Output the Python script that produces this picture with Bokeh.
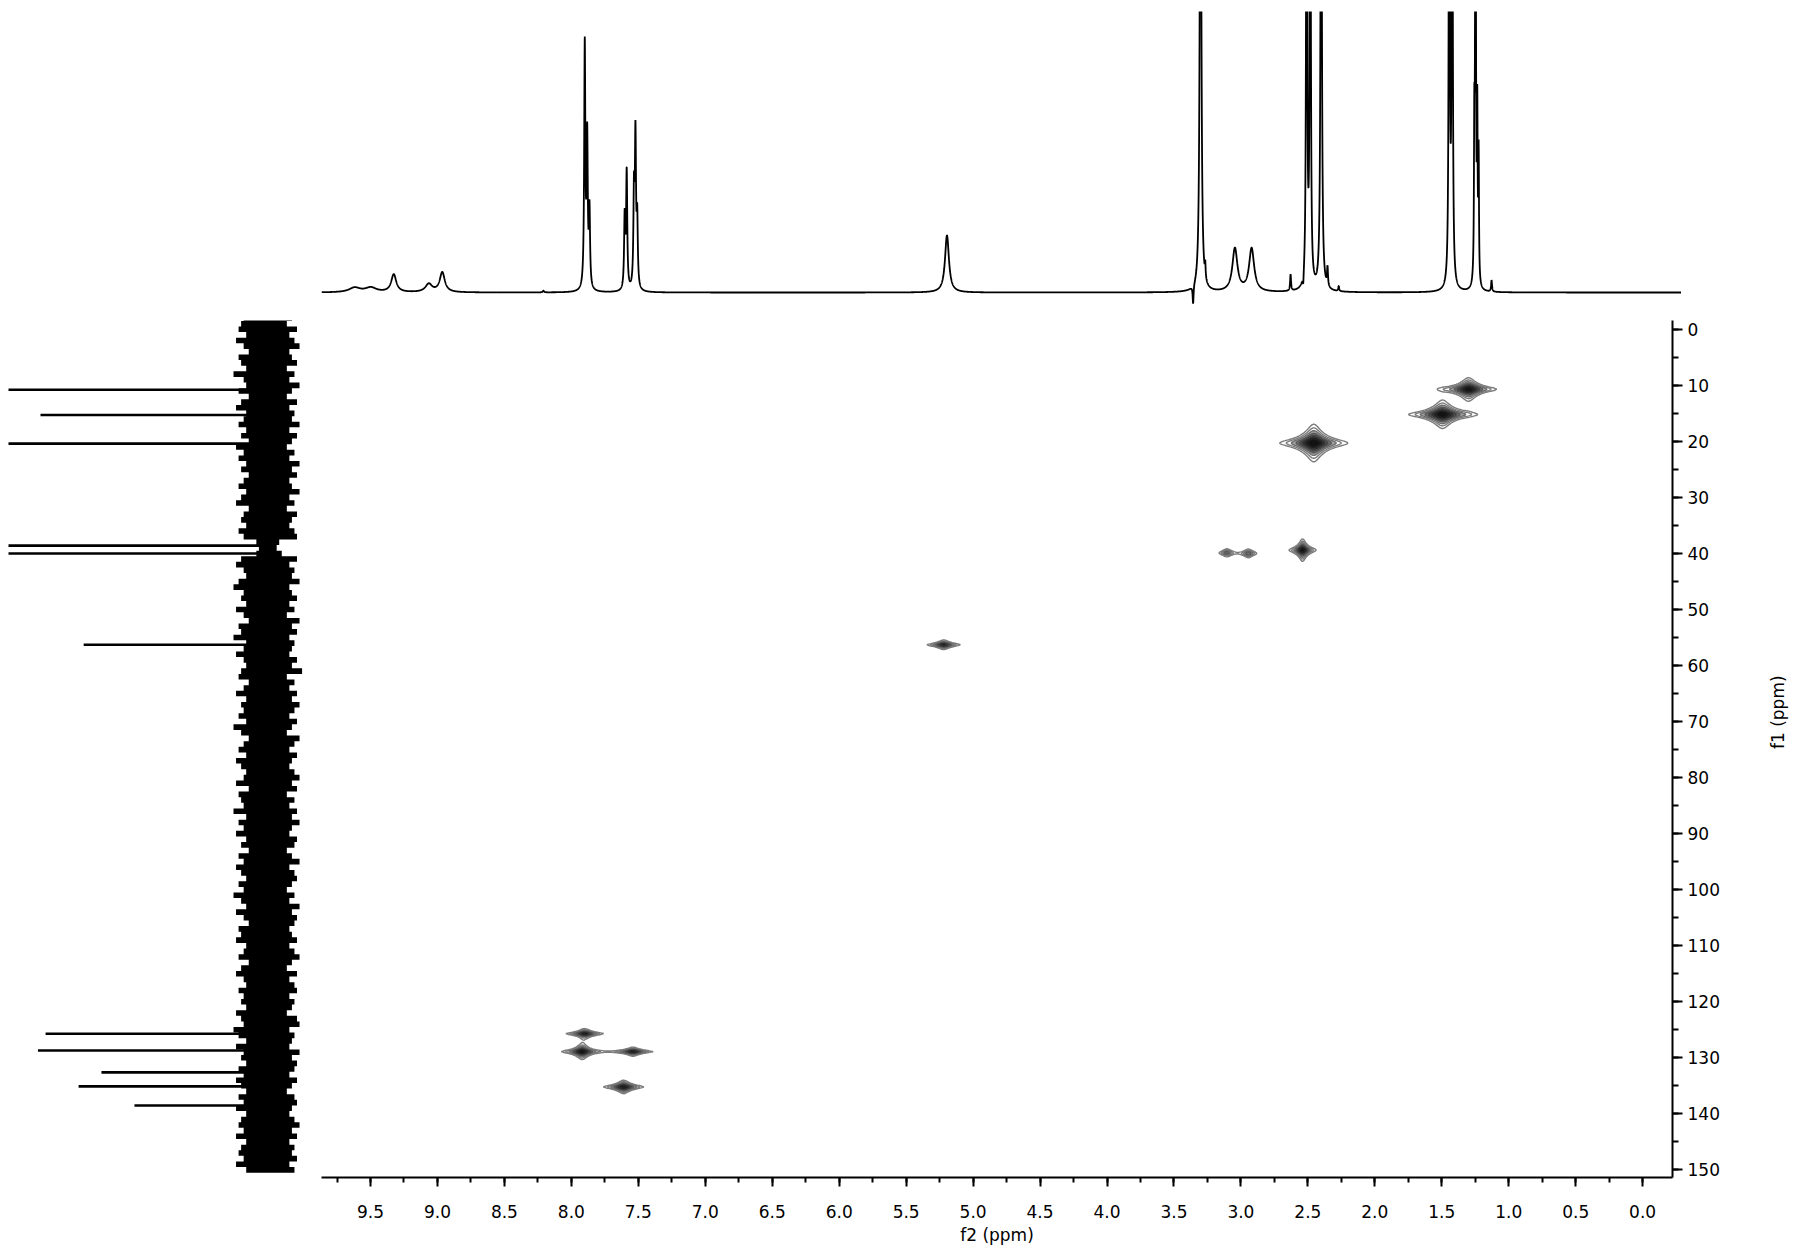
import math
import numpy as np
from bokeh.plotting import figure
from bokeh.layouts import row, column
from bokeh.models import Range1d, LinearAxis, SingleIntervalTicker, PrintfTickFormatter, Spacer
from bokeh.embed import file_html
from bokeh.resources import INLINE

# ---------------- data ----------------
# 1H projection (f2 axis): line positions (ppm), heights (rel. units), full widths (ppm)
h1_ppm = [9.62, 9.50, 9.33, 9.07, 8.97, 8.22,
          7.913, 7.895, 7.878, 7.617, 7.602, 7.548, 7.537, 7.524,
          5.226, 3.400, 3.345, 3.310, 3.090, 2.966, 2.677, 2.583,
          2.558, 2.531, 2.450, 2.403, 2.320,
          1.500, 1.478, 1.314, 1.305, 1.292, 1.282, 1.186]
h1_height = [1.8, 1.8, 7.0, 3.2, 7.8, 0.7,
             96, 58, 30, 28, 46, 36, 58, 26,
             22.5, -7.5, 250, 5.5, 17.0, 17.0, 6.5, -4.5,
             250, 250, 250, 7.5, 2.0,
             250, 250, 55, 250, 64, 50, 4.5]
h1_fwhm = [0.10, 0.10, 0.045, 0.06, 0.045, 0.01,
           0.010, 0.010, 0.010, 0.010, 0.010, 0.010, 0.010, 0.010,
           0.035, 0.008, 0.012, 0.006, 0.045, 0.045, 0.008, 0.008,
           0.008, 0.008, 0.010, 0.008, 0.008,
           0.008, 0.008, 0.006, 0.006, 0.006, 0.006, 0.008]

# 13C projection (f1 axis): line positions (ppm) and heights (rel. units)
c13_ppm = [10.8, 15.3, 20.4, 38.6, 40.0, 56.3, 125.7, 128.7, 132.6, 135.1, 138.5]
c13_height = [130, 89, 130, 130, 130, 72, 87, 90, 65, 74, 52]

# 13C projection noise envelope, one value per ppm from -2 to 150
c13_noise_ppm = list(range(-2, 151))
c13_noise_left = [9, 10, 11, 8, 12, 9, 7, 11, 10, 8,
                  13, 9, 8, 11, 7, 10, 12, 8, 9, 11,
                  8, 10, 7, 12, 9, 11, 8, 10, 7, 9,
                  11, 8, 10, 12, 7, 9, 10, 8, 11, 9,
                  4, 3, 4, 10, 12, 9, 8, 11, 13, 9,
                  10, 8, 12, 9, 7, 11, 10, 13, 8, 9,
                  12, 9, 8, 10, 11, 7, 9, 12, 8, 10,
                  9, 11, 8, 13, 10, 7, 9, 11, 8, 12,
                  10, 8, 9, 12, 7, 11, 10, 9, 13, 8,
                  11, 9, 12, 8, 10, 7, 11, 9, 12, 10,
                  8, 11, 9, 13, 10, 8, 12, 9, 7, 11,
                  10, 12, 8, 9, 11, 7, 10, 12, 9, 8,
                  11, 9, 10, 8, 12, 10, 9, 13, 11, 8,
                  12, 9, 10, 8, 11, 9, 12, 10, 8, 11,
                  9, 12, 8, 10, 11, 9, 12, 8, 10, 11,
                  9, 12, 8]
c13_noise_right = [-10, -8, -12, -9, -11, -13, -9, -10, -12, -8,
                   -11, -9, -13, -10, -8, -12, -9, -11, -10, -13,
                   -9, -12, -10, -8, -11, -9, -13, -10, -12, -9,
                   -10, -13, -9, -11, -8, -12, -10, -9, -11, -12,
                   -5, -4, -6, -12, -9, -11, -10, -13, -9, -10,
                   -12, -9, -11, -8, -13, -10, -12, -9, -11, -10,
                   -9, -12, -10, -14, -8, -11, -9, -12, -10, -13,
                   -11, -9, -12, -10, -8, -13, -11, -9, -12, -10,
                   -9, -11, -13, -10, -12, -8, -11, -9, -12, -10,
                   -13, -10, -9, -12, -11, -8, -10, -13, -9, -11,
                   -12, -10, -8, -11, -9, -13, -10, -12, -11, -9,
                   -10, -12, -9, -11, -13, -10, -8, -12, -9, -11,
                   -12, -9, -11, -10, -8, -12, -13, -9, -11, -10,
                   -9, -13, -10, -12, -11, -9, -12, -10, -8, -11,
                   -12, -10, -9, -11, -13, -10, -12, -9, -11, -10,
                   -12, -9, -11]

# HSQC cross peaks: f2 (ppm), f1 (ppm), amplitude, half-widths in f2 and f1 (ppm)
cross_f2 = [1.300, 1.495, 2.456, 2.540, 3.105, 2.944, 5.220, 7.900, 7.920, 7.540, 7.610]
cross_f1 = [10.7, 15.2, 20.3, 39.4, 39.9, 40.0, 56.3, 125.7, 128.9, 128.9, 135.2]
cross_amp = [1.0, 1.2, 1.3, 1.0, 0.22, 0.24, 0.6, 0.7, 1.0, 0.7, 0.8]
cross_hw_f2 = [0.048, 0.053, 0.051, 0.023, 0.030, 0.030, 0.038, 0.039, 0.034, 0.040, 0.039]
cross_hw_f1 = [0.47, 0.52, 0.67, 0.46, 0.38, 0.38, 0.26, 0.24, 0.32, 0.22, 0.31]

contour_levels = [0.05, 0.075, 0.11, 0.17, 0.25, 0.38, 0.56, 0.85, 1.3, 100]

# ---------------- styling ----------------
FONT = "DejaVu Sans"
FS = "17px"

F2_LO, F2_HI = -0.223, 9.866
F1_TOP, F1_BOT = -1.57, 151.36

xr = Range1d(F2_HI, F2_LO)
yr = Range1d(F1_BOT, F1_TOP)


def bare(fig):
    fig.outline_line_color = None
    fig.xgrid.visible = False
    fig.ygrid.visible = False
    fig.background_fill_color = "white"
    fig.border_fill_color = "white"


# ---------------- top: 1H projection ----------------
top = figure(width=1360, height=312, x_range=xr, y_range=Range1d(-11.0, 110.6),
             output_backend="svg", toolbar_location=None,
             x_axis_location=None, y_axis_location=None,
             min_border=0, min_border_top=3)
bare(top)
hx = np.linspace(F2_LO, F2_HI, 12000)
hy = np.zeros_like(hx)
for p0, h0, w0 in zip(h1_ppm, h1_height, h1_fwhm):
    hy += h0 / (1.0 + ((hx - p0) / (w0 / 2.0)) ** 2)
top.line(hx, hy, line_color="black", line_width=1.8)

# ---------------- left: 13C projection ----------------
left = figure(width=313, height=927, x_range=Range1d(101.6, -21.65), y_range=yr,
              output_backend="svg", toolbar_location=None,
              x_axis_location=None, y_axis_location=None,
              min_border=0, min_border_bottom=68)
bare(left)
ny = np.array(c13_noise_ppm, dtype=float)
ys = np.empty(2 * len(ny))
ys[0::2] = ny - 0.5
ys[1::2] = ny + 0.5
xl = np.repeat(np.array(c13_noise_left, dtype=float), 2)
xrr = np.repeat(np.array(c13_noise_right, dtype=float), 2)
left.harea(y=ys, x1=xl, x2=xrr, fill_color="black")
left.segment(x0=[0] * len(c13_ppm), y0=c13_ppm, x1=c13_height, y1=c13_ppm,
             line_color="black", line_width=2.6)

# ---------------- main: HSQC ----------------
main = figure(width=1479, height=927, x_range=xr, y_range=yr,
              output_backend="svg", toolbar_location=None,
              x_axis_location=None, y_axis_location=None,
              min_border=0, min_border_right=119, min_border_bottom=68)
bare(main)

gx = np.linspace(F2_LO, F2_HI, 1400)
gy = np.linspace(F1_TOP, F1_BOT, 900)
GX, GY = np.meshgrid(gx, gy)
Z = np.zeros_like(GX)
for f2, f1, a0, wa, wb in zip(cross_f2, cross_f1, cross_amp, cross_hw_f2, cross_hw_f1):
    Z += a0 / ((1.0 + ((GX - f2) / wa) ** 2) * (1.0 + ((GY - f1) / wb) ** 2))

fills = ["#ffffff00", "#ffffff00", "#a0a0a0", "#6e6e6e", "#4a4a4a",
         "#303030", "#1e1e1e", "#121212", "#0a0a0a"]
lines = ["#7c7c7c", "#7c7c7c", "#6c6c6c", "#585858", "#444444",
         "#303030", "#202020", "#141414", "#0a0a0a", "#0a0a0a"]
main.contour(gx, gy, Z, levels=contour_levels, fill_color=fills,
             line_color=lines, line_width=1.4)

xa = LinearAxis(ticker=SingleIntervalTicker(interval=0.5, num_minor_ticks=2),
                formatter=PrintfTickFormatter(format="%.1f"), axis_label="f2 (ppm)")
ya = LinearAxis(ticker=SingleIntervalTicker(interval=10, num_minor_ticks=2),
                axis_label="f1 (ppm)")
for ax in (xa, ya):
    ax.axis_line_color = "black"
    ax.axis_line_width = 2
    ax.major_tick_line_color = "black"
    ax.major_tick_line_width = 2
    ax.minor_tick_line_color = "black"
    ax.minor_tick_line_width = 2
    ax.major_tick_in = 0
    ax.minor_tick_in = 0
    ax.major_label_text_font = FONT
    ax.major_label_text_font_size = FS
    ax.major_label_text_color = "black"
    ax.axis_label_text_font = FONT
    ax.axis_label_text_font_size = FS
    ax.axis_label_text_font_style = "normal"
    ax.axis_label_text_color = "black"

xa.major_tick_out = 9
xa.minor_tick_out = 5
xa.major_label_standoff = 18
xa.axis_label_standoff = 4

ya.major_tick_out = 10
ya.minor_tick_out = 6
ya.major_label_standoff = 5
ya.axis_label_standoff = 55
ya.axis_label_orientation = math.pi / 2

main.add_layout(xa, "below")
main.add_layout(ya, "right")

body = column(row(Spacer(width=313, height=312), top), row(left, main))
layout = column(Spacer(width=1808, height=8),
                row(Spacer(width=8, height=1239), body))

open("out.html", "w").write(file_html(layout, INLINE))
